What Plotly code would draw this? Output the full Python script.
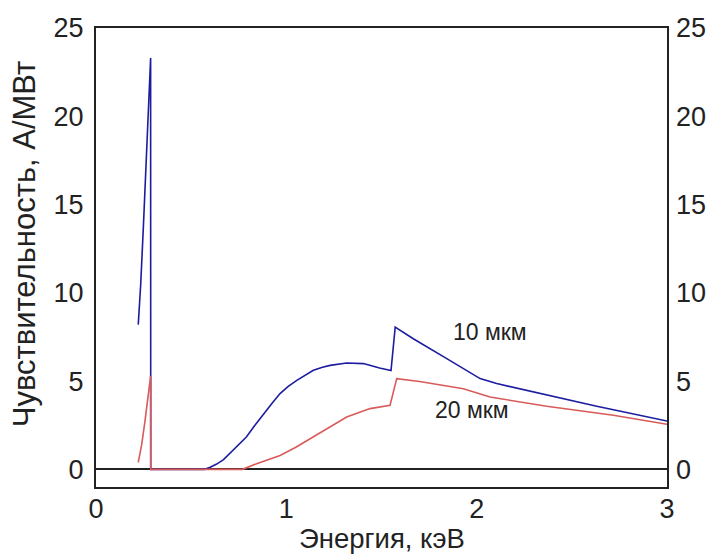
import plotly.graph_objects as go

# Energy (keV) and sensitivity (A/W) for 10 um detector
energy_10 = [0.222, 0.235, 0.25, 0.265, 0.28, 0.287, 0.2875, 0.57, 0.60, 0.634, 0.67, 0.704,
             0.745, 0.79, 0.835, 0.88, 0.925, 0.967, 1.01, 1.055, 1.10, 1.142, 1.19, 1.23,
             1.317, 1.405, 1.49, 1.55, 1.572,
             1.667, 1.843, 2.018, 2.105, 2.368, 2.631, 3.0]
sens_10 = [8.2, 10.5, 14.0, 18.0, 22.0, 23.3, 0.0, 0.0, 0.12, 0.3, 0.55, 0.9,
           1.35, 1.83, 2.5, 3.15, 3.75, 4.29, 4.7, 5.04, 5.35, 5.61, 5.78, 5.89,
           6.02, 5.99, 5.74, 5.6, 8.06,
           7.4, 6.27, 5.14, 4.86, 4.23, 3.57, 2.74]

# 20 um detector
energy_20 = [0.222, 0.24, 0.257, 0.272, 0.287, 0.2875, 0.77, 0.844, 0.90, 0.967, 1.05, 1.142,
             1.23, 1.317, 1.44, 1.545, 1.58, 1.70, 1.93, 2.07, 2.368, 2.718, 3.0]
sens_20 = [0.4, 1.4, 2.7, 4.0, 5.3, 0.0, 0.0, 0.32, 0.52, 0.79, 1.25, 1.83,
           2.42, 2.96, 3.44, 3.63, 5.14, 4.98, 4.57, 4.1, 3.57, 3.06, 2.55]

x_ticks = [0, 1, 2, 3]
y_ticks = [0, 5, 10, 15, 20, 25]

labels = ["10 мкм", "20 мкм"]
label_x = [2.07, 1.976]
label_y = [7.76, 3.34]

x_title = "Энергия, кэВ"
y_title = "Чувствительность, А/МВт"

blue = "#1c1ca0"
red = "#d95a5a"
font_family = "Liberation Sans, Arial, sans-serif"

fig = go.Figure()
fig.add_trace(go.Scatter(x=energy_10, y=sens_10, mode="lines",
                         line=dict(color=blue, width=1.6), showlegend=False))
fig.add_trace(go.Scatter(x=energy_20, y=sens_20, mode="lines",
                         line=dict(color=red, width=1.6), showlegend=False))
# invisible trace to activate right axis
fig.add_trace(go.Scatter(x=energy_20, y=sens_20, mode="lines", yaxis="y2",
                         line=dict(color="rgba(0,0,0,0)", width=0),
                         hoverinfo="skip", showlegend=False))

for t, xx, yy in zip(labels, label_x, label_y):
    fig.add_annotation(x=xx, y=yy, text=t, showarrow=False,
                       font=dict(family=font_family, size=23, color="#222222"))

# axis titles as annotations for exact placement
fig.add_annotation(xref="paper", yref="paper", x=0.5, y=-0.112, text=x_title,
                   showarrow=False, xanchor="center", yanchor="middle",
                   font=dict(family=font_family, size=27.5, color="#222222"))
fig.add_annotation(xref="paper", yref="paper", x=-0.126, y=0.529, text=y_title,
                   showarrow=False, textangle=-90, xanchor="center", yanchor="middle",
                   font=dict(family=font_family, size=31, color="#222222"))

fig.update_layout(
    width=706, height=546,
    margin=dict(l=88, r=47, t=20, b=67, autoexpand=False),
    paper_bgcolor="white", plot_bgcolor="white",
    font=dict(family=font_family, color="#222222"),
    xaxis=dict(range=[0, 3], tickvals=x_ticks, ticks="", showgrid=False,
               zeroline=False, showline=True, linecolor="#222222", linewidth=2,
               mirror=True, tickfont=dict(size=27), ticklabelstandoff=-3,
               automargin=False),
    yaxis=dict(range=[-1, 25], tickvals=y_ticks, ticks="", showgrid=False,
               zeroline=True, zerolinecolor="#222222", zerolinewidth=2,
               showline=True, linecolor="#222222", linewidth=2, mirror=True,
               tickfont=dict(size=27), ticklabelstandoff=5, automargin=False),
    yaxis2=dict(range=[-1, 25], tickvals=y_ticks, ticks="", showgrid=False,
                zeroline=False, overlaying="y", side="right", showline=False,
                automargin=False,
                tickfont=dict(size=27), ticklabelstandoff=8),
)

fig.write_html("out.html")
